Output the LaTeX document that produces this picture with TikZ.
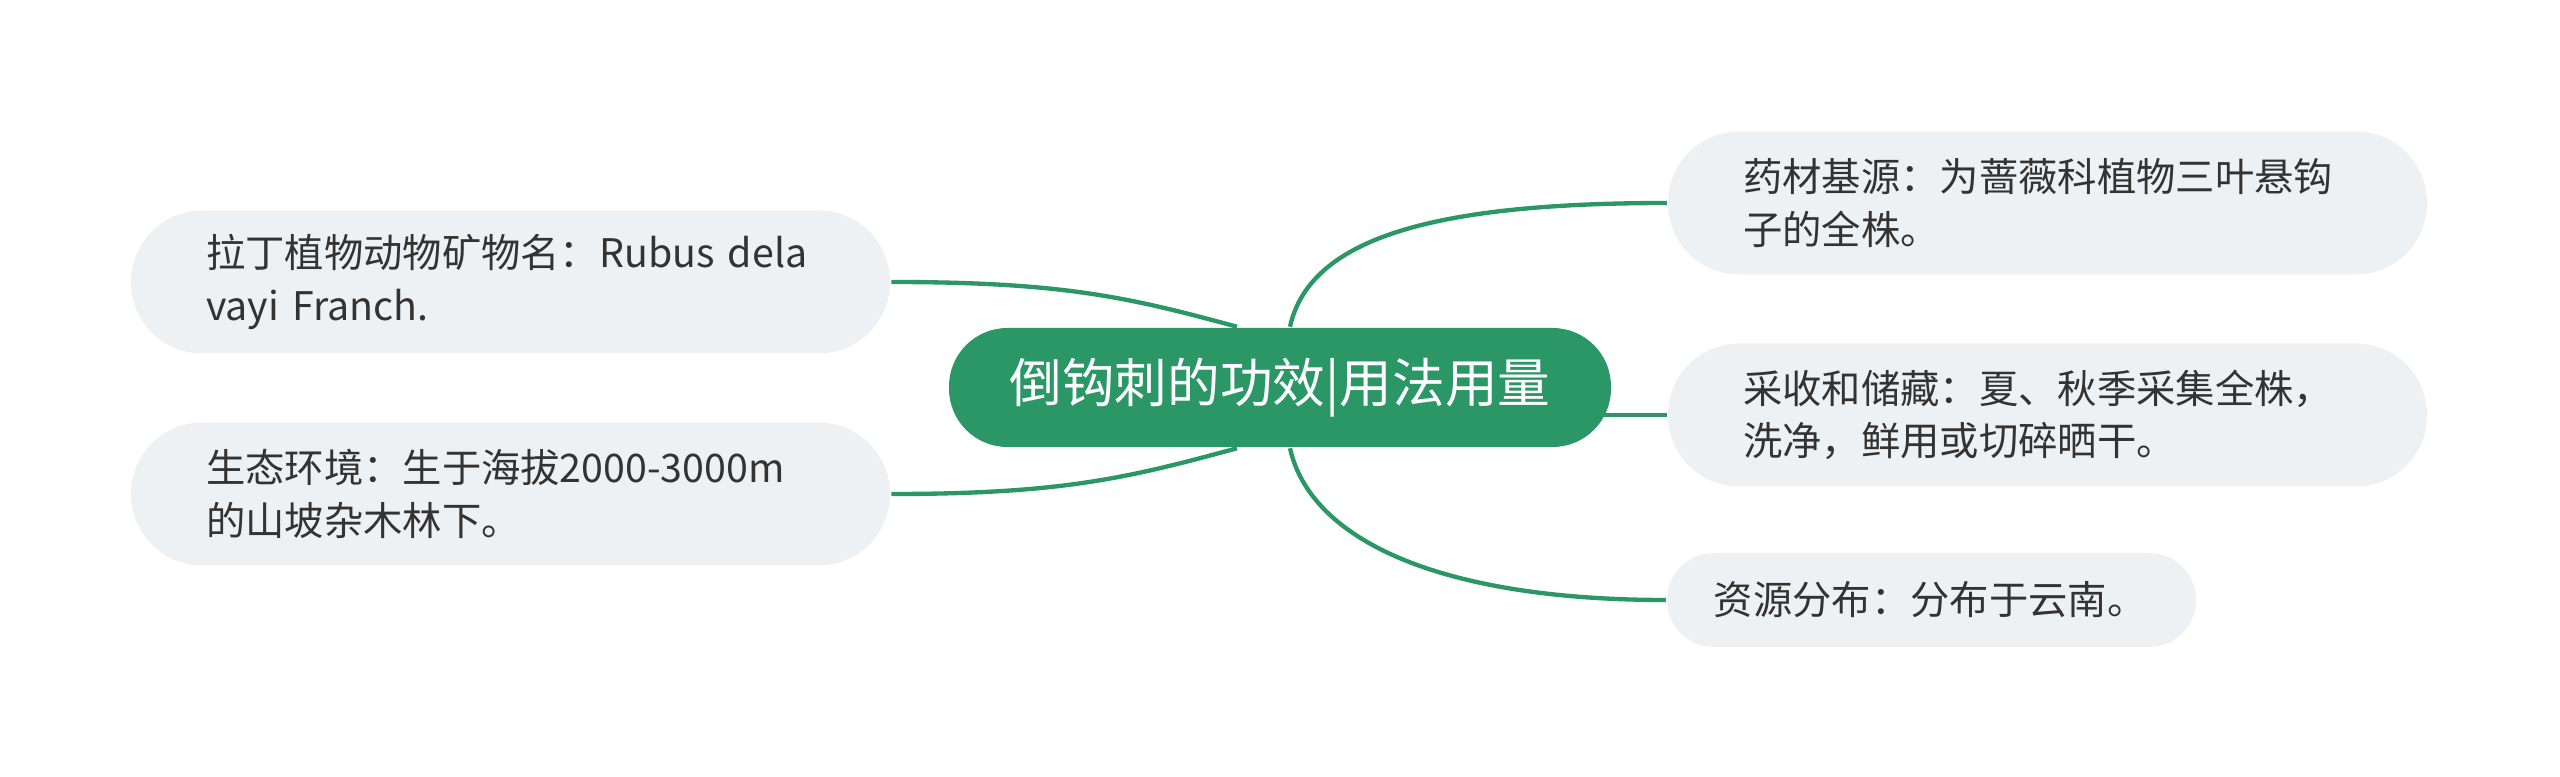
\documentclass[tikz,border=0pt]{standalone}
\usepackage{fontspec}
\newfontfamily\cjk{Noto Sans CJK SC}
\definecolor{topicgreen}{RGB}{43,151,102}
\definecolor{leafgrey}{RGB}{238,241,244}
\definecolor{leaftext}{RGB}{51,51,51}
\tikzset{every picture/.style={line width=0.75pt}}
\tikzset{
  topic/.style={rectangle, rounded corners=17.5pt, fill=topicgreen, text=white,
    minimum width=198.6pt, minimum height=35.7pt, inner sep=0pt,
    font=\cjk\fontsize{15.8pt}{19pt}\selectfont},
  leaf/.style={rectangle, rounded corners=21.3pt, fill=leafgrey, text=leaftext,
    text width=182.7pt, inner xsep=22.5pt, inner ysep=0pt, minimum height=42.9pt,
    align=left, font=\cjk\fontsize{11.8pt}{15.7pt}\selectfont},
  smallleaf/.style={leaf, rounded corners=14pt, text width=130.7pt, inner xsep=14pt,
    minimum height=28.2pt},
  link/.style={draw=topicgreen, line width=1.3pt}
}

\begin{document}
\begin{tikzpicture}[x=0.3pt,y=0.3pt,yscale=-1,xscale=1]
\path[use as bounding box] (0,0) rectangle (2560,777);

% Central Topic
\node [topic] (root) at (1280,387.5) {倒钩刺的功效|用法用量};

% Left Nodes
\node [leaf] (latin) at (510.5,282) {拉丁植物动物矿物名：Rubus dela\\vayi Franch.};
\node [leaf] (habitat) at (510.5,494) {生态环境：生于海拔2000-3000m\\的山坡杂木林下。};

% Right Nodes
\node [leaf] (source) at (2047.5,203) {药材基源：为蔷薇科植物三叶悬钩\\子的全株。};
\node [leaf] (harvest) at (2047.5,415) {采收和储藏：夏、秋季采集全株，\\洗净，鲜用或切碎晒干。};
\node [smallleaf] (range) at (1931.5,600) {资源分布：分布于云南。};

% Connectors
\draw [link] (latin.east) .. controls +(170,0) and +(-110,-30) .. ([xshift=-12.9pt]root.north);
\draw [link] (habitat.east) .. controls +(170,0) and +(-110,30) .. ([xshift=-12.9pt]root.south);
\draw [link] ([xshift=3pt]root.north) .. controls +(20,-90) and +(-230,0) .. (source.west);
\draw [link] (harvest.west) -- +(-70,0);
\draw [link] ([xshift=3pt]root.south) .. controls +(20,90) and +(-230,0) .. (range.west);

\end{tikzpicture}
\end{document}
